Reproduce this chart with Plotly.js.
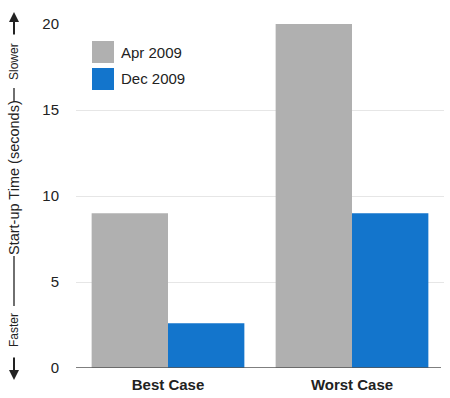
<!DOCTYPE html>
<html>
<head>
<meta charset="utf-8">
<script src="https://cdn.plot.ly/plotly-3.0.1.min.js"></script>
<style>html,body{margin:0;padding:0;background:#fff;}#chart{width:450px;height:398px;}</style>
</head>
<body>
<div id="chart"></div>
<script>
// ---- data ----
const categories = ["Best Case", "Worst Case"];
const seriesNames = ["Apr 2009", "Dec 2009"];
const apr2009 = [9, 20];
const dec2009 = [2.6, 9];
const yTicks = [0, 5, 10, 15, 20];
const axisTitle = "Start-up Time (seconds)";
const fasterLabel = "Faster";
const slowerLabel = "Slower";

const colors = ["#b0b0b0", "#1375cc"];
const W = 450, H = 398;
const M = {l: 76, r: 6, t: 24, b: 30};
const pw = W - M.l - M.r, ph = H - M.t - M.b;
const px = x => (x - M.l) / pw;
const py = y => (H - M.b - y) / ph;
const FONT = "Liberation Sans, Arial, sans-serif";

const traces = [apr2009, dec2009].map((vals, i) => ({
  type: "bar", x: categories, y: vals, name: seriesNames[i],
  marker: {color: colors[i]}, hoverinfo: "skip"
}));

const shapes = [];
const annotations = [];
// legend (manual, large swatches)
seriesNames.forEach((n, i) => {
  const cy = 52 + i * 27;
  shapes.push({type: "rect", xref: "paper", yref: "paper",
    x0: px(92), x1: px(114), y0: py(cy - 11), y1: py(cy + 11),
    fillcolor: colors[i], line: {width: 0}});
  annotations.push({xref: "paper", yref: "paper", x: px(119), y: py(cy),
    xanchor: "left", yanchor: "middle", text: n, showarrow: false,
    font: {family: FONT, size: 15, color: "#222"}});
});
// axis title pieces
const tx = px(14);
annotations.push({xref: "paper", yref: "paper", x: tx, y: py(178), textangle: -90,
  xanchor: "center", yanchor: "middle", text: axisTitle, showarrow: false,
  font: {family: FONT, size: 14.5, color: "#222"}});
annotations.push({xref: "paper", yref: "paper", x: tx, y: py(62), textangle: -90,
  xanchor: "center", yanchor: "middle", text: slowerLabel, showarrow: false,
  font: {family: FONT, size: 12, color: "#222"}});
annotations.push({xref: "paper", yref: "paper", x: tx, y: py(330), textangle: -90,
  xanchor: "center", yanchor: "middle", text: fasterLabel, showarrow: false,
  font: {family: FONT, size: 12, color: "#222"}});
[[88, 102], [256, 306]].forEach(([a, b]) => shapes.push({type: "line", xref: "paper", yref: "paper",
  x0: tx, x1: tx, y0: py(a), y1: py(b), line: {color: "#222", width: 1.3}}));
// arrows
annotations.push({xref: "paper", yref: "paper", x: tx, y: py(12), ax: 0, ay: 24,
  text: "", showarrow: true, arrowhead: 2, arrowsize: 1, arrowwidth: 2, arrowcolor: "#222"});
annotations.push({xref: "paper", yref: "paper", x: tx, y: py(380), ax: 0, ay: -24,
  text: "", showarrow: true, arrowhead: 2, arrowsize: 1, arrowwidth: 2, arrowcolor: "#222"});

const layout = {
  width: W, height: H, margin: M,
  paper_bgcolor: "#fff", plot_bgcolor: "#fff",
  showlegend: false, barmode: "group", bargap: 0.17, bargroupgap: 0,
  font: {family: FONT, size: 15, color: "#222"},
  xaxis: {type: "category", range: [-0.5, 1.5], showgrid: false, zeroline: false,
    showline: false, ticks: "", tickfont: {family: FONT, size: 15, color: "#222", weight: "bold"},
    ticklabelstandoff: 6},
  yaxis: {range: [0, 20], tickvals: yTicks, ticktext: yTicks.map(String),
    showgrid: true, gridcolor: "#e6e6e6", gridwidth: 1,
    zeroline: false, showline: false, ticks: "",
    tickfont: {family: FONT, size: 15, color: "#222"}, ticklabelstandoff: 16},
  shapes: shapes.concat([{type: "line", xref: "paper", yref: "y", x0: 0, x1: px(441), y0: 0, y1: 0,
    line: {color: "#555", width: 1.5}}]),
  annotations: annotations
};
Plotly.newPlot("chart", traces, layout, {displayModeBar: false, staticPlot: true});
</script>
</body>
</html>
